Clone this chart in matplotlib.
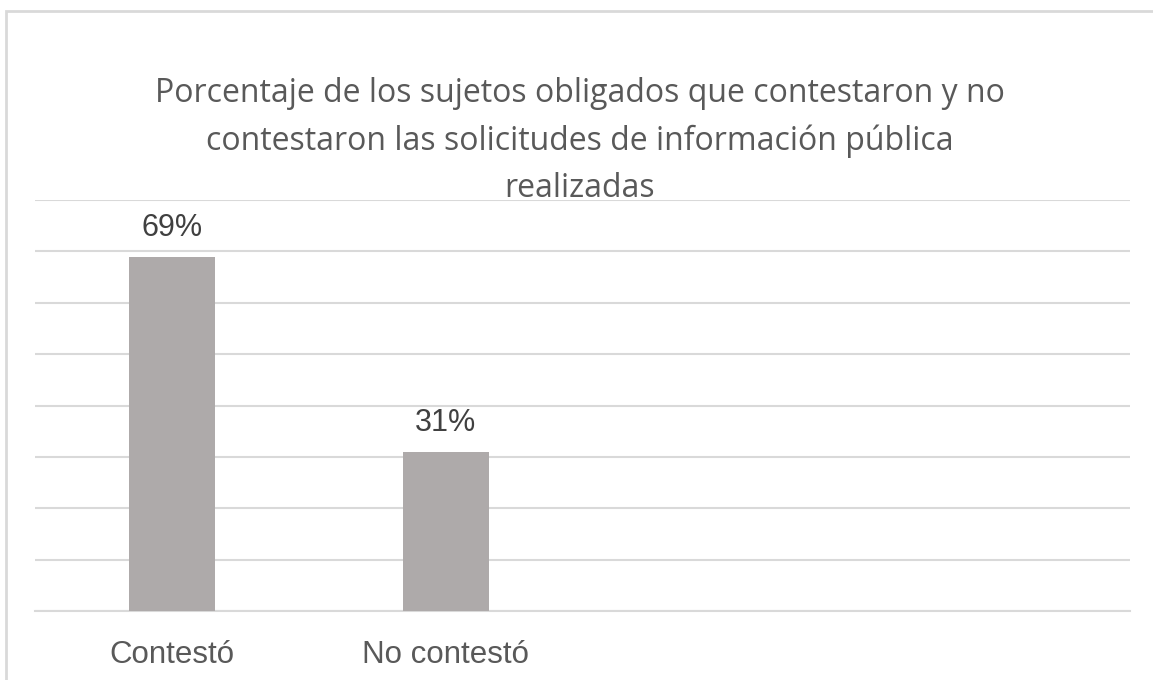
import matplotlib.pyplot as plt
from matplotlib.patches import Rectangle

categories = ['Contestó', 'No contestó']
values = [0.69, 0.31]
labels = ['69%', '31%']
title = ('Porcentaje de los sujetos obligados que contestaron y no\n'
         'contestaron las solicitudes de información pública\n'
         'realizadas')

W, H = 1153, 680
fig = plt.figure(figsize=(W / 100, H / 100), dpi=100)
ax = fig.add_axes([35 / W, 1 - 611 / H, (1130 - 35) / W, (611 - 200) / H])

# outer chart frame, cut off on the right and bottom
fig.patches.append(Rectangle((5.5 / W, -0.1), 1.2, 1.1 - 11 / H,
                             transform=fig.transFigure, fill=False,
                             edgecolor='#d9d9d9', linewidth=2))

x = list(range(len(categories)))
ax.bar(x, values, width=0.314, color='#aeaaaa', zorder=3)
for xi, v, lab in zip(x, values, labels):
    ax.annotate(lab, (xi, v), xytext=(0, 29), textcoords='offset pixels',
                ha='center', va='center', fontsize=22,
                color='#404040', family='Liberation Sans')

ax.set_xlim(-0.5, 3.5)
ax.set_ylim(0, 0.8)
ax.set_yticks([i / 10 for i in range(9)])
ax.set_yticklabels([])
ax.yaxis.grid(True, color='#d9d9d9', linewidth=1.5, zorder=0)
ax.tick_params(axis='both', length=0)
ax.set_xticks(x)
ax.set_xticklabels(categories, fontsize=22.5, color='#595959', family='Liberation Sans')
ax.tick_params(axis='x', pad=21)
for s in ['top', 'right', 'left']:
    ax.spines[s].set_visible(False)
ax.spines['bottom'].set_color('#d9d9d9')
ax.spines['bottom'].set_linewidth(1.5)

fig.text(580 / W, 1 - 141 / H, title, ha='center', va='center', fontsize=23,
         color='#595959', family='Open Sans', linespacing=1.55)

fig.savefig('out.png', dpi=100)
